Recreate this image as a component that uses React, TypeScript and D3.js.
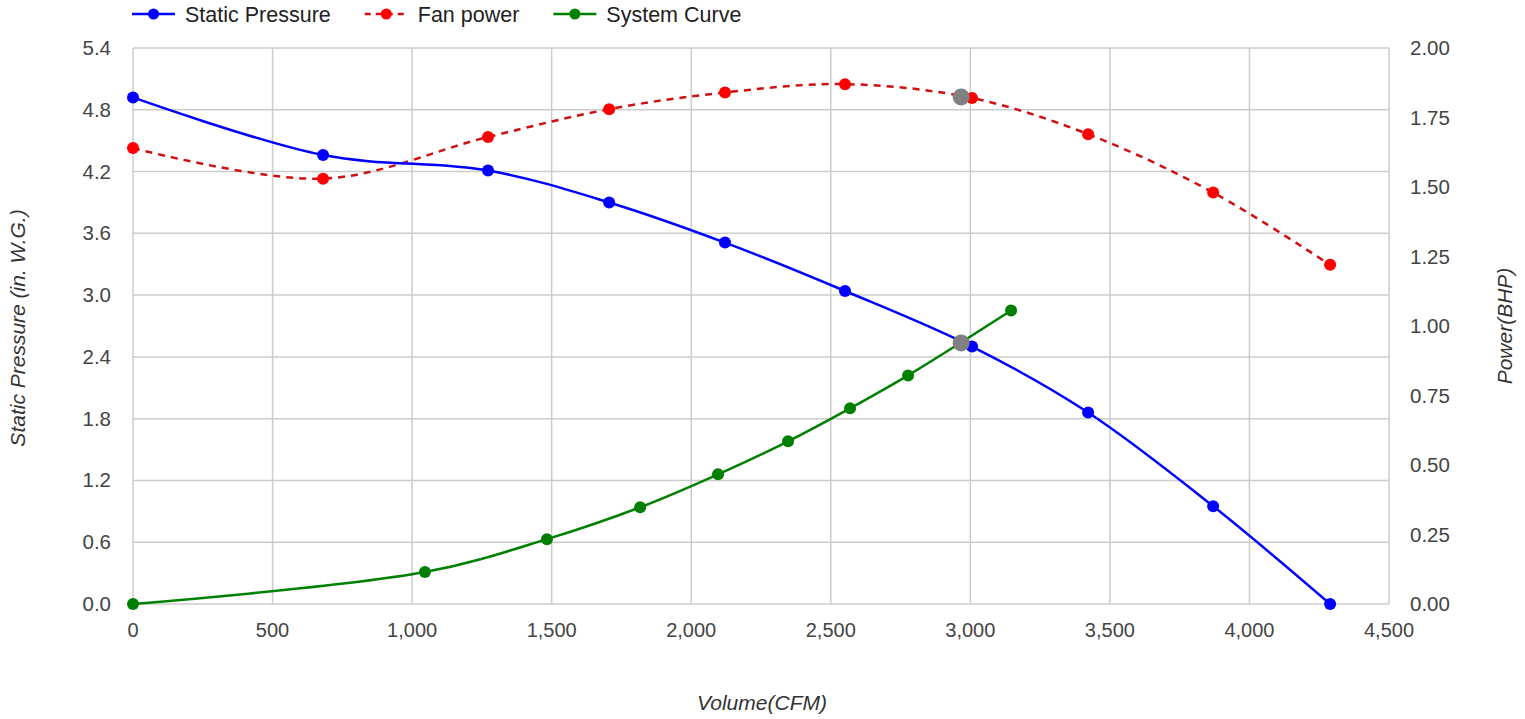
import React from 'react';
import * as d3 from 'd3';

// fan curve table (CFM vs in. W.G. / BHP)
const volume = [0, 681, 1272, 1706, 2121, 2551, 3006, 3422, 3870, 4289];
const staticPressure = [4.92, 4.36, 4.21, 3.9, 3.51, 3.04, 2.5, 1.86, 0.95, 0];
const fanPower = [1.64, 1.53, 1.68, 1.78, 1.84, 1.87, 1.82, 1.69, 1.48, 1.22];

// system curve
const systemVolume = [0, 1046, 1483, 1817, 2096, 2347, 2569, 2777, 3146];
const systemPressure = [0, 0.31, 0.63, 0.94, 1.26, 1.58, 1.9, 2.22, 2.85];

// operating point (gray markers)
const opVolume = 2967;
const opPressure = 2.535;
const opPower = 1.824;

const xTicks = [0, 500, 1000, 1500, 2000, 2500, 3000, 3500, 4000, 4500];
const leftTicks = [0, 0.6, 1.2, 1.8, 2.4, 3.0, 3.6, 4.2, 4.8, 5.4];
const rightTicks = [0, 0.25, 0.5, 0.75, 1.0, 1.25, 1.5, 1.75, 2.0];

const legendItems = [
  { label: 'Static Pressure', color: '#0000ff', line: '#0000ff', dash: '' },
  { label: 'Fan power', color: '#ff0000', line: '#d01010', dash: '6,5' },
  { label: 'System Curve', color: '#008000', line: '#008000', dash: '' },
];

const W = 1525;
const H = 719;
const margin = { top: 48, right: 136, bottom: 115, left: 133 };
const font = '"Liberation Sans", Arial, sans-serif';
const legendSize = 21.5;

// measure legend text so the items space out like the original
const measure = (s: string) => {
  const ctx = document.createElement('canvas').getContext('2d');
  if (!ctx) return s.length * 10.5;
  ctx.font = `${legendSize}px "Liberation Sans", Arial, sans-serif`;
  return ctx.measureText(s).width;
};

export default function App() {
  const innerW = W - margin.left - margin.right;
  const innerH = H - margin.top - margin.bottom;

  const x = d3.scaleLinear().domain([0, 4500]).range([margin.left, margin.left + innerW]);
  const yL = d3.scaleLinear().domain([0, 5.4]).range([margin.top + innerH, margin.top]);
  const yR = d3.scaleLinear().domain([0, 2]).range([margin.top + innerH, margin.top]);

  const curve = d3.curveCatmullRom.alpha(0.5);
  const lineL = d3.line<[number, number]>().x(d => x(d[0])).y(d => yL(d[1])).curve(curve);
  const lineR = d3.line<[number, number]>().x(d => x(d[0])).y(d => yR(d[1])).curve(curve);

  const spData = volume.map((v, i) => [v, staticPressure[i]] as [number, number]);
  const fpData = volume.map((v, i) => [v, fanPower[i]] as [number, number]);
  const scData = systemVolume.map((v, i) => [v, systemPressure[i]] as [number, number]);

  const fmtX = d3.format(',');
  const bottom = margin.top + innerH;
  const right = margin.left + innerW;

  let lx = 132;

  return (
    <svg width={W} height={H} style={{ position: 'absolute', left: 0, top: 0, display: 'block', background: '#fff' }}>
      {/* grid */}
      {xTicks.map(t => (
        <line key={'gx' + t} x1={x(t)} x2={x(t)} y1={margin.top} y2={bottom} stroke="#cccccc" strokeWidth={1.5} />
      ))}
      {leftTicks.map(t => (
        <line key={'gy' + t} x1={margin.left} x2={right} y1={yL(t)} y2={yL(t)} stroke="#cccccc" strokeWidth={1.5} />
      ))}

      {/* tick labels */}
      {xTicks.map(t => (
        <text key={'tx' + t} x={x(t)} y={bottom + 33} textAnchor="middle" fontFamily={font} fontSize={20} fill="#444">
          {fmtX(t)}
        </text>
      ))}
      {leftTicks.map(t => (
        <text key={'tl' + t} x={margin.left - 22} y={yL(t) + 7} textAnchor="end" fontFamily={font} fontSize={20.5} fill="#444">
          {t.toFixed(1)}
        </text>
      ))}
      {rightTicks.map(t => (
        <text key={'tr' + t} x={right + 21} y={yR(t) + 7} textAnchor="start" fontFamily={font} fontSize={20.5} fill="#444">
          {t.toFixed(2)}
        </text>
      ))}

      {/* axis titles */}
      <text x={762} y={H - 9} textAnchor="middle" fontFamily={font} fontSize={21} fontStyle="italic" fill="#333">
        Volume(CFM)
      </text>
      <text transform={`translate(25, ${(margin.top + bottom) / 2 + 2}) rotate(-90)`} textAnchor="middle" fontFamily={font} fontSize={21} fontStyle="italic" fill="#333">
        Static Pressure (in. W.G.)
      </text>
      <text transform={`translate(1512, ${(margin.top + bottom) / 2}) rotate(-90)`} textAnchor="middle" fontFamily={font} fontSize={21} fontStyle="italic" fill="#333">
        Power(BHP)
      </text>

      {/* series */}
      <path d={lineR(fpData) || ''} fill="none" stroke="#d01010" strokeWidth={2.5} strokeDasharray="7,6" />
      <path d={lineL(spData) || ''} fill="none" stroke="#0000ff" strokeWidth={2.5} />
      <path d={lineL(scData) || ''} fill="none" stroke="#008000" strokeWidth={2.5} />

      {fpData.map((d, i) => (
        <circle key={'fp' + i} cx={x(d[0])} cy={yR(d[1])} r={6} fill="#ff0000" />
      ))}
      {spData.map((d, i) => (
        <circle key={'sp' + i} cx={x(d[0])} cy={yL(d[1])} r={6} fill="#0000ff" />
      ))}
      {scData.map((d, i) => (
        <circle key={'sc' + i} cx={x(d[0])} cy={yL(d[1])} r={6} fill="#008000" />
      ))}

      <circle cx={x(opVolume)} cy={yL(opPressure)} r={8.5} fill="#808080" />
      <circle cx={x(opVolume)} cy={yR(opPower)} r={8.5} fill="#808080" />

      {/* legend */}
      {legendItems.map(item => {
        const x0 = lx;
        lx = x0 + 53 + measure(item.label) + 34;
        return (
          <g key={item.label}>
            <line x1={x0} x2={x0 + 43} y1={14} y2={14} stroke={item.line} strokeWidth={2.5} strokeDasharray={item.dash || undefined} />
            <circle cx={x0 + 21.5} cy={14} r={5.5} fill={item.color} />
            <text x={x0 + 53} y={21.5} fontFamily={font} fontSize={legendSize} fill="#222">
              {item.label}
            </text>
          </g>
        );
      })}
    </svg>
  );
}
